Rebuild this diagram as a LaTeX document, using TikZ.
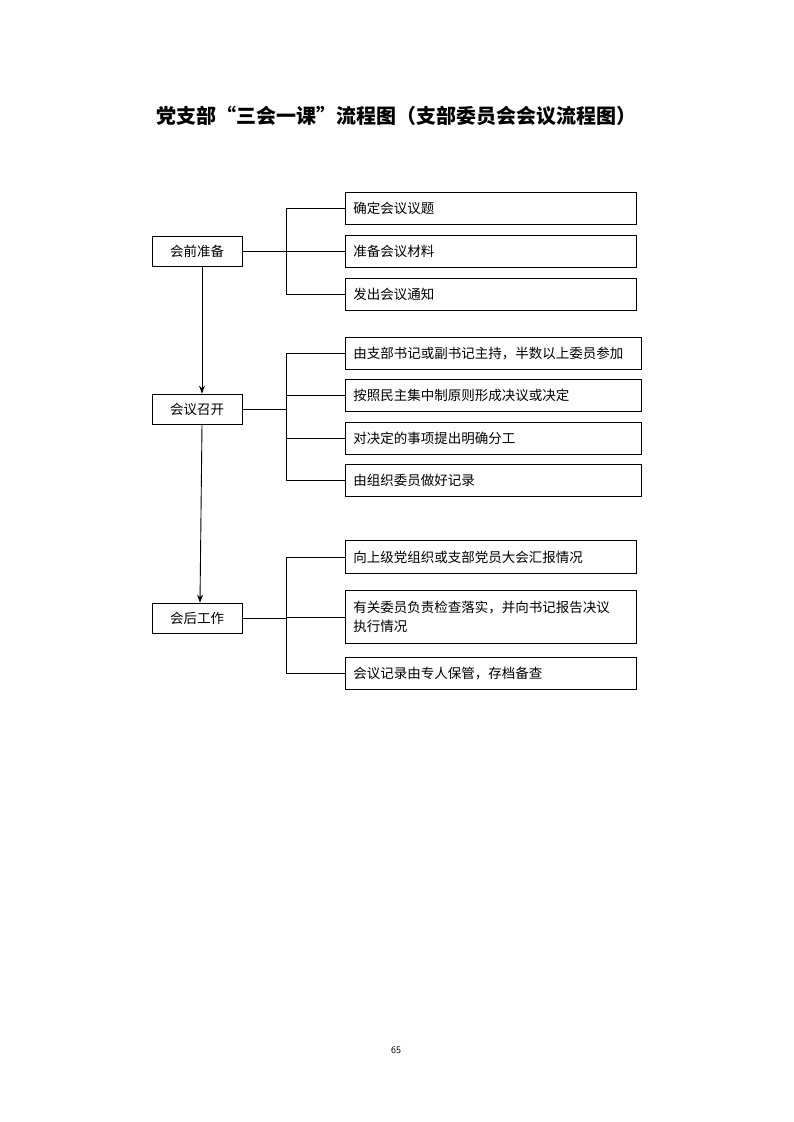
\documentclass[tikz,border=0pt]{standalone}
\usepackage{fontspec}
\newfontfamily\cjk{Noto Sans CJK SC}
\usetikzlibrary{arrows.meta}
\begin{document}
\begin{tikzpicture}[x=1pt,y=-1pt,
  lbox/.style={draw,line width=0.8pt,minimum width=90pt,minimum height=30pt,font=\cjk\fontsize{13.5pt}{16pt}\selectfont,inner sep=0pt},
  rbox/.style={draw,line width=0.8pt,anchor=north west,text width=#1,minimum height=32pt,font=\cjk\fontsize{13.5pt}{19pt}\selectfont,inner xsep=8pt,align=left},
  conn/.style={line width=0.8pt},
  arr/.style={line width=0.9pt,-{Stealth[length=8pt,width=6pt]}}]
\useasboundingbox (0,0) rectangle (793,1122);
\node[font=\cjk\bfseries\fontsize{20pt}{23pt}\selectfont] (title) at (396,116) {党支部“三会一课”流程图（支部委员会会议流程图）};
\node[lbox] (L1) at (197,251) {会前准备};
\node[lbox] (L2) at (197,409) {会议召开};
\node[lbox] (L3) at (197,618) {会后工作};
% group 1
\node[rbox=275pt] (a1) at (345,192) {确定会议议题};
\node[rbox=275pt] (a2) at (345,235) {准备会议材料};
\node[rbox=275pt] (a3) at (345,278) {发出会议通知};
% group 2
\node[rbox=280pt] (b1) at (345,337) {由支部书记或副书记主持，半数以上委员参加};
\node[rbox=280pt] (b2) at (345,379) {按照民主集中制原则形成决议或决定};
\node[rbox=280pt] (b3) at (345,422) {对决定的事项提出明确分工};
\node[rbox=280pt] (b4) at (345,464) {由组织委员做好记录};
% group 3
\node[rbox=275pt,minimum height=33pt] (c1) at (345,540) {向上级党组织或支部党员大会汇报情况};
\node[rbox=275pt,minimum height=53pt] (c2) at (345,590) {有关委员负责检查落实，并向书记报告决议\\执行情况};
\node[rbox=275pt] (c3) at (345,657) {会议记录由专人保管，存档备查};
% brackets
\coordinate (j1) at (286,251);
\draw[conn] (L1.east) -- (j1);
\draw[conn] (a1.west) -- (286,0|-a1.west) -- (286,0|-a3.west) -- (a3.west);
\draw[conn] (a2.west) -- (286,0|-a2.west);
\coordinate (j2) at (286,409);
\draw[conn] (L2.east) -- (j2);
\draw[conn] (b1.west) -- (286,0|-b1.west) -- (286,0|-b4.west) -- (b4.west);
\draw[conn] (b2.west) -- (286,0|-b2.west);
\draw[conn] (b3.west) -- (286,0|-b3.west);
\coordinate (j3) at (286,618);
\draw[conn] (L3.east) -- (j3);
\draw[conn] (c1.west) -- (286,0|-c1.west) -- (286,0|-c3.west) -- (c3.west);
\draw[conn] (c2.west) -- (286,0|-c2.west);
% arrows
\draw[arr] ([xshift=5pt]L1.south) -- ([xshift=5pt]L2.north);
\draw[arr] ([xshift=5pt]L2.south) -- ([xshift=3pt]L3.north);
\node[font=\sffamily\fontsize{10pt}{12pt}\selectfont] (pg) at (396,1050) {65};
\end{tikzpicture}
\end{document}
